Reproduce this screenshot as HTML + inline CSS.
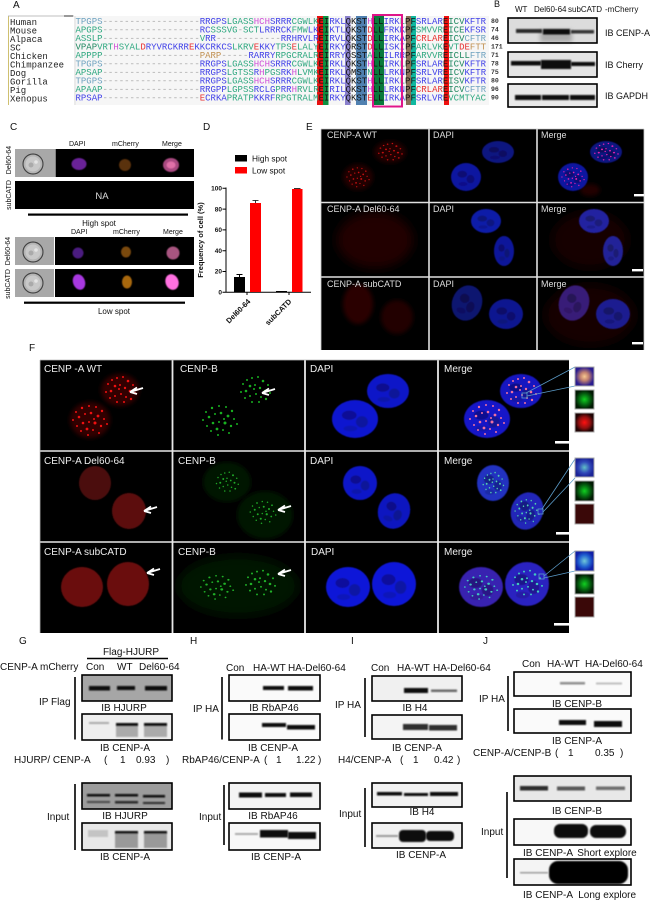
<!DOCTYPE html>
<html><head><meta charset="utf-8"><style>
html,body{margin:0;padding:0;background:#fff;width:650px;height:902px;overflow:hidden}
svg{display:block;font-family:"Liberation Sans",sans-serif;fill:#111;filter:blur(.3px)}
.m{font-family:"Liberation Mono",monospace;font-size:9px}
.n{font-family:"Liberation Mono",monospace;font-size:6.5px;font-weight:bold;fill:#333}
.l{font-size:10px}.k{font-size:8px}.c{font-size:7px}.e{font-size:9px;fill:#ddd}.f{font-size:10px;fill:#eee}
.bd{font-weight:bold}
.q{fill:#111}.a{fill:#6fa3c0}.d{fill:#aaa}.b{fill:#4040e8}.g{fill:#2fa880}.p{fill:#d050d8}.r{fill:#e83030}.o{fill:#c09050}.t{fill:#208860}
.fr{fill:none;stroke:#000;stroke-width:1.6}
.band{fill:#0a0a0a;filter:url(#b1)}
.ln{stroke:#000;stroke-width:1.6}
.ins{stroke:#aaa;stroke-width:1}
.cn{stroke:#5b9bc8;stroke-width:.8;fill:none}
</style></head><body>
<svg xmlns="http://www.w3.org/2000/svg" width="650" height="902" viewBox="0 0 650 902">
<defs>
<filter id="b03" x="-20%" y="-20%" width="140%" height="140%"><feGaussianBlur stdDeviation=".5"/></filter>
<filter id="b1" x="-30%" y="-80%" width="160%" height="260%"><feGaussianBlur stdDeviation=".8"/></filter>
<filter id="b2" x="-50%" y="-50%" width="200%" height="200%"><feGaussianBlur stdDeviation="2"/></filter>
<filter id="b5" x="-60%" y="-60%" width="220%" height="220%"><feGaussianBlur stdDeviation="5"/></filter>
<radialGradient id="gP"><stop offset="0" stop-color="#f8c890"/><stop offset=".45" stop-color="#c08070"/><stop offset="1" stop-color="#2a1c90"/></radialGradient>
<radialGradient id="gG"><stop offset="0" stop-color="#10d020"/><stop offset=".6" stop-color="#056010"/><stop offset="1" stop-color="#021a04"/></radialGradient>
<radialGradient id="gR"><stop offset="0" stop-color="#ff1010"/><stop offset=".6" stop-color="#901010"/><stop offset="1" stop-color="#200404"/></radialGradient>
<radialGradient id="gB"><stop offset="0" stop-color="#60c0c8"/><stop offset=".6" stop-color="#3048b8"/><stop offset="1" stop-color="#1c2498"/></radialGradient>
<radialGradient id="gV"><stop offset="0" stop-color="#70c8d8"/><stop offset=".6" stop-color="#2060d0"/><stop offset="1" stop-color="#1020a8"/></radialGradient>
<g id="nuc"><circle r="1"/><ellipse cx="-.25" cy="-.2" rx=".32" ry=".25" fill="#000" opacity=".28"/><ellipse cx=".3" cy=".15" rx=".26" ry=".3" fill="#000" opacity=".24"/><ellipse cx="-.2" cy=".5" rx=".3" ry=".15" fill="#000" opacity=".14"/></g>
<g id="d1"><circle cx="-12" cy="-6" r="1"/><circle cx="-8" cy="-10" r="1"/><circle cx="-3" cy="-12" r="1"/><circle cx="3" cy="-13" r="1"/><circle cx="8" cy="-9" r="1.3"/><circle cx="13" cy="-5" r="1"/><circle cx="-14" cy="2" r="1"/><circle cx="-9" cy="1" r="1.3"/><circle cx="-5" cy="-4" r="1.3"/><circle cx="0" cy="-5" r="1"/><circle cx="5" cy="-2" r="1.2"/><circle cx="10" cy="1" r="1.3"/><circle cx="15" cy="3" r="1"/><circle cx="-10" cy="8" r="1"/><circle cx="-5" cy="6" r="1"/><circle cx="1" cy="4" r="1"/><circle cx="6" cy="7" r="1"/><circle cx="11" cy="9" r="1.2"/><circle cx="-3" cy="12" r="1"/><circle cx="4" cy="12" r="1"/><circle cx="-1" cy="-1" r="1"/></g>
<g id="d2"><circle cx="-14" cy="-8" r="1"/><circle cx="-8" cy="-12" r="1.2"/><circle cx="-1" cy="-14" r="1"/><circle cx="6" cy="-13" r="1"/><circle cx="12" cy="-9" r="1.2"/><circle cx="-17" cy="0" r="1"/><circle cx="-11" cy="-3" r="1.3"/><circle cx="-5" cy="-6" r="1"/><circle cx="1" cy="-7" r="1.3"/><circle cx="8" cy="-4" r="1.4"/><circle cx="14" cy="-1" r="1"/><circle cx="-13" cy="6" r="1"/><circle cx="-7" cy="3" r="1.3"/><circle cx="-1" cy="2" r="1"/><circle cx="5" cy="3" r="1.5"/><circle cx="11" cy="6" r="1.2"/><circle cx="17" cy="4" r="1"/><circle cx="-9" cy="11" r="1"/><circle cx="-3" cy="9" r="1.4"/><circle cx="3" cy="10" r="1"/><circle cx="9" cy="13" r="1"/><circle cx="-2" cy="15" r="1"/><circle cx="4" cy="-1" r="1"/></g>
<g id="arr"><path d="M0 0L13 -4M0 0L7 -4.5M0 0L7 2" stroke="#fff" stroke-width="1.8" fill="none"/></g>
<g id="cell"><circle r="11" fill="#b4b4b4"/><circle r="10" fill="none" stroke="#444" stroke-width="1.2"/><circle r="7.5" fill="#c8c8c8"/><circle cx="-2" cy="1" r="2.5" fill="#aaa"/><circle cx="3" cy="-2" r="1.8" fill="#e4e4e4"/></g>
<clipPath id="cE"><rect x="321" y="129" width="323" height="221"/></clipPath>
<clipPath id="cF"><rect x="40" y="360" width="529" height="273"/></clipPath>
</defs>
<rect width="650" height="902" fill="#fff"/>

<!-- Panel A -->
<text x="13" y="8" class="l">A</text>
<rect x="76" y="16" width="413" height="89" fill="#f6f6f6"/>
<rect x="8" y="16" width="66" height="89" fill="#fff"/>
<path d="M8.5 16V105" stroke="#cfc070" stroke-width="1"/><path d="M8 16H74" stroke="#aaa" stroke-width=".8"/><rect x="64" y="15" width="9" height="2" fill="#999"/>
<path d="M75 16V105" stroke="#ccc" stroke-width=".8"/>
<rect x="317" y="16" width="6" height="89" fill="#e81010"/><rect x="323" y="16" width="5.5" height="89" fill="#0e9040"/>
<rect x="345" y="16" width="5.5" height="89" fill="#8a80cc"/>
<rect x="356" y="16" width="11" height="89" fill="#5080b0"/>
<rect x="374" y="16" width="10" height="89" fill="#0a7a3c"/>
<rect x="406" y="16" width="5" height="89" fill="#8a7258"/><rect x="411" y="16" width="5" height="89" fill="#10b8a0"/>
<rect x="444" y="16" width="5" height="89" fill="#f01010"/>
<g class="m" fill="#222">
<text x="10" y="25">Human</text><text x="10" y="33.5">Mouse</text><text x="10" y="42">Alpaca</text><text x="10" y="50.5">SC</text><text x="10" y="59">Chicken</text><text x="10" y="67.5">Chimpanzee</text><text x="10" y="76">Dog</text><text x="10" y="84.5">Gorilla</text><text x="10" y="93">Pig</text><text x="10" y="101.5">Xenopus</text>
<text x="75.5" y="24"><tspan class="a">TPGPS</tspan><tspan class="d">------------------</tspan><tspan class="b">RRGPS</tspan><tspan class="g">LGASS</tspan><tspan class="p">HCH</tspan><tspan class="b">SRRR</tspan><tspan class="g">CGWLK</tspan><tspan class="q">EI</tspan><tspan class="b">RKL</tspan><tspan class="q">QKST</tspan><tspan class="p">H</tspan><tspan class="q">LL</tspan><tspan class="b">IRK</tspan><tspan class="g">L</tspan><tspan class="q">PF</tspan><tspan class="b">SRLAR</tspan><tspan class="q">E</tspan><tspan class="t">ICV</tspan><tspan class="b">KFTR</tspan></text>
<text x="75.5" y="32.5"><tspan class="g">APGPS</tspan><tspan class="d">------------------</tspan><tspan class="b">RC</tspan><tspan class="g">SSSVG</tspan><tspan class="d">-</tspan><tspan class="g">SCT</tspan><tspan class="b">LRRRCK</tspan><tspan class="g">FMW</tspan><tspan class="b">LK</tspan><tspan class="q">EI</tspan><tspan class="b">KTL</tspan><tspan class="q">QKST</tspan><tspan class="r">D</tspan><tspan class="q">LL</tspan><tspan class="b">FRKK</tspan><tspan class="q">PF</tspan><tspan class="g">SMVVR</tspan><tspan class="q">E</tspan><tspan class="t">ICE</tspan><tspan class="b">KFSR</tspan></text>
<text x="75.5" y="41"><tspan class="g">ASSLP</tspan><tspan class="d">------------------</tspan><tspan class="g">V</tspan><tspan class="b">RR</tspan><tspan class="d">------------</tspan><tspan class="b">RRHRVLR</tspan><tspan class="q">EI</tspan><tspan class="b">RVL</tspan><tspan class="q">QKST</tspan><tspan class="r">D</tspan><tspan class="q">LL</tspan><tspan class="b">IRKA</tspan><tspan class="q">PF</tspan><tspan class="r">CRLAR</tspan><tspan class="q">E</tspan><tspan class="t">ICV</tspan><tspan class="a">CFTR</tspan></text>
<text x="75.5" y="49.5"><tspan class="t">VPAP</tspan><tspan class="g">VRT</tspan><tspan class="p">H</tspan><tspan class="g">SYAL</tspan><tspan class="r">D</tspan><tspan class="b">RYVRCKRR</tspan><tspan class="r">E</tspan><tspan class="b">KKCRKCS</tspan><tspan class="g">LKRV</tspan><tspan class="r">E</tspan><tspan class="b">KKY</tspan><tspan class="g">TPS</tspan><tspan class="r">E</tspan><tspan class="g">LALY</tspan><tspan class="q">EI</tspan><tspan class="b">RKY</tspan><tspan class="q">QRST</tspan><tspan class="r">D</tspan><tspan class="q">LL</tspan><tspan class="b">ISKI</tspan><tspan class="q">PF</tspan><tspan class="g">ARLVK</tspan><tspan class="q">E</tspan><tspan class="g">VT</tspan><tspan class="r">DE</tspan><tspan class="o">FTT</tspan></text>
<text x="75.5" y="58"><tspan class="g">APPPP</tspan><tspan class="d">------------------</tspan><tspan class="o">PARP</tspan><tspan class="d">-----</tspan><tspan class="b">RARRY</tspan><tspan class="g">RPGCRALR</tspan><tspan class="q">EI</tspan><tspan class="b">RRY</tspan><tspan class="q">QSST</tspan><tspan class="g">A</tspan><tspan class="q">LL</tspan><tspan class="b">ILRR</tspan><tspan class="q">PF</tspan><tspan class="g">ARVVR</tspan><tspan class="q">E</tspan><tspan class="t">ICLL</tspan><tspan class="a">FTR</tspan></text>
<text x="75.5" y="66.5"><tspan class="a">TPGPS</tspan><tspan class="d">------------------</tspan><tspan class="b">RRGPS</tspan><tspan class="g">LGASS</tspan><tspan class="p">HCH</tspan><tspan class="b">SRRR</tspan><tspan class="g">CGWLK</tspan><tspan class="q">EI</tspan><tspan class="b">RKL</tspan><tspan class="q">QKST</tspan><tspan class="p">H</tspan><tspan class="q">LL</tspan><tspan class="b">IRK</tspan><tspan class="g">L</tspan><tspan class="q">PF</tspan><tspan class="b">SRLAR</tspan><tspan class="q">E</tspan><tspan class="t">ICV</tspan><tspan class="b">KFTR</tspan></text>
<text x="75.5" y="75"><tspan class="g">APSAP</tspan><tspan class="d">------------------</tspan><tspan class="b">RRGPS</tspan><tspan class="g">LGTSS</tspan><tspan class="b">R</tspan><tspan class="p">H</tspan><tspan class="g">PGS</tspan><tspan class="b">RK</tspan><tspan class="p">H</tspan><tspan class="g">LVMK</tspan><tspan class="q">EI</tspan><tspan class="b">RKL</tspan><tspan class="q">QMST</tspan><tspan class="g">N</tspan><tspan class="q">LL</tspan><tspan class="b">LRKN</tspan><tspan class="q">PF</tspan><tspan class="b">SRLVR</tspan><tspan class="q">E</tspan><tspan class="t">ICV</tspan><tspan class="b">KFTR</tspan></text>
<text x="75.5" y="83.5"><tspan class="a">TPGPS</tspan><tspan class="d">------------------</tspan><tspan class="b">RRGPS</tspan><tspan class="g">LGASS</tspan><tspan class="p">HCH</tspan><tspan class="b">SRRR</tspan><tspan class="g">CGWLK</tspan><tspan class="q">EI</tspan><tspan class="b">RKL</tspan><tspan class="q">QKST</tspan><tspan class="p">H</tspan><tspan class="q">LL</tspan><tspan class="b">IRK</tspan><tspan class="g">L</tspan><tspan class="q">PF</tspan><tspan class="b">SRLAR</tspan><tspan class="q">E</tspan><tspan class="t">ISV</tspan><tspan class="b">KFTR</tspan></text>
<text x="75.5" y="92"><tspan class="g">APAAP</tspan><tspan class="d">------------------</tspan><tspan class="b">RRGPP</tspan><tspan class="g">LGPSS</tspan><tspan class="b">RCLG</tspan><tspan class="g">P</tspan><tspan class="b">RR</tspan><tspan class="p">H</tspan><tspan class="g">RVLR</tspan><tspan class="q">EI</tspan><tspan class="b">RIL</tspan><tspan class="q">QKST</tspan><tspan class="p">H</tspan><tspan class="q">LL</tspan><tspan class="b">LRKN</tspan><tspan class="q">PF</tspan><tspan class="r">CRLAR</tspan><tspan class="q">E</tspan><tspan class="t">ICV</tspan><tspan class="a">CFTR</tspan></text>
<text x="75.5" y="100.5"><tspan class="b">RPSAP</tspan><tspan class="d">------------------</tspan><tspan class="r">E</tspan><tspan class="b">CRKA</tspan><tspan class="g">PRATP</tspan><tspan class="b">KKRF</tspan><tspan class="g">RPGTRALM</tspan><tspan class="q">EI</tspan><tspan class="b">RKY</tspan><tspan class="q">QKST</tspan><tspan class="r">E</tspan><tspan class="q">LL</tspan><tspan class="b">IRKA</tspan><tspan class="q">PF</tspan><tspan class="b">SRLVR</tspan><tspan class="q">E</tspan><tspan class="g">VCMTYAC</tspan></text>
</g>
<rect x="373" y="15" width="29" height="91.5" fill="none" stroke="#e0158a" stroke-width="2"/>
<g class="n"><text x="491" y="23">80</text><text x="491" y="31.5">74</text><text x="491" y="40">46</text><text x="491" y="48.5">171</text><text x="491" y="57">71</text><text x="491" y="65.5">78</text><text x="491" y="74">75</text><text x="491" y="82.5">80</text><text x="491" y="91">96</text><text x="491" y="99.5">90</text></g>

<!-- Panel B -->
<text x="494" y="7" class="l" style="font-size:9px">B</text>
<text x="515" y="12" class="k">WT</text><text x="534" y="12" class="k">Del60-64</text><text x="568" y="12" class="k">subCATD</text><text x="605" y="12" class="k">-mCherry</text>
<rect x="508" y="18" width="89" height="25" fill="#dcdcdc"/>
<rect x="540" y="30" width="32" height="12" fill="#aaa" filter="url(#b2)"/>
<rect x="516" y="29" width="26" height="4" class="band" opacity=".85"/><rect x="543" y="29" width="27" height="5.5" class="band"/><rect x="571" y="30" width="23" height="3.5" class="band" opacity=".8"/>
<rect x="508" y="18" width="89" height="25" class="fr"/>
<rect x="508" y="52" width="89" height="25" fill="#e4e4e4"/>
<rect x="511" y="61" width="30" height="4.5" class="band"/><rect x="541" y="60" width="30" height="9" class="band"/><rect x="571" y="62" width="24" height="4" class="band"/>
<rect x="508" y="52" width="89" height="25" class="fr"/>
<rect x="508" y="84" width="89" height="23" fill="#e8e8e8"/>
<rect x="515" y="95" width="26" height="5" class="band"/><rect x="542" y="95" width="27" height="5" class="band"/><rect x="570" y="95" width="25" height="5" class="band"/>
<rect x="508" y="84" width="89" height="23" class="fr"/>
<g style="font-size:9px"><text x="605" y="36">IB CENP-A</text><text x="605" y="68">IB Cherry</text><text x="605" y="99">IB GAPDH</text></g>

<!-- Panel C -->
<text x="10" y="130" class="l">C</text>
<g class="c"><text x="69" y="146">DAPI</text><text x="112" y="146">mCherry</text><text x="162" y="146">Merge</text><text x="71" y="234">DAPI</text><text x="113" y="234">mCherry</text><text x="163" y="234">Merge</text></g>
<rect x="15" y="149" width="40" height="28" fill="#a8a8a8"/><rect x="55.5" y="149" width="138.5" height="28" fill="#000"/>
<use href="#cell" x="33" y="164"/>
<rect x="15" y="181" width="179" height="28" fill="#000"/>
<text x="102" y="199" style="font-size:9.5px;fill:#ddd" text-anchor="middle">NA</text>
<rect x="28" y="213.5" width="160" height="2.2" fill="#000"/>
<text x="99" y="226" class="k" text-anchor="middle">High spot</text>
<rect x="15" y="237" width="39" height="28" fill="#a8a8a8"/><rect x="55" y="237" width="139" height="28" fill="#000"/>
<use href="#cell" x="33" y="252"/>
<rect x="15" y="269" width="39" height="28" fill="#a8a8a8"/><rect x="55" y="269" width="139" height="28" fill="#000"/>
<use href="#cell" x="33" y="283"/>
<rect x="24" y="301.6" width="161" height="2.2" fill="#000"/>
<text x="114" y="314" class="k" text-anchor="middle">Low spot</text>
<g class="c"><text transform="translate(11,160) rotate(-90)" text-anchor="middle">Del60-64</text><text transform="translate(11,195) rotate(-90)" text-anchor="middle">subCATD</text><text transform="translate(10,251) rotate(-90)" text-anchor="middle">Del60-64</text><text transform="translate(10,284) rotate(-90)" text-anchor="middle">subCATD</text></g>
<g filter="url(#b03)">
<ellipse cx="79" cy="164" rx="7.5" ry="6" fill="#6a2498"/><ellipse cx="125" cy="165" rx="6" ry="6" fill="#5a3008"/><ellipse cx="171" cy="165" rx="8" ry="7" fill="#a84880"/><ellipse cx="171" cy="165" rx="4.5" ry="3.5" fill="#e070a8"/>
<ellipse cx="78" cy="253" rx="5.5" ry="5.5" fill="#4c1a80"/><ellipse cx="126" cy="252" rx="5" ry="5.5" fill="#7a4810"/><ellipse cx="173" cy="253" rx="6.5" ry="6.5" fill="#a85480"/>
<ellipse cx="79" cy="282" rx="6" ry="8" transform="rotate(-20 79 282)" fill="#a838e0"/><ellipse cx="127" cy="282" rx="5" ry="6.5" fill="#a86810"/><ellipse cx="172" cy="282" rx="6.5" ry="8" transform="rotate(-20 172 282)" fill="#ff70e0"/>
</g>

<!-- Panel D -->
<text x="203" y="130" class="l">D</text>
<rect x="235" y="155" width="12" height="6.5" fill="#000"/><text x="252" y="161.5" style="font-size:8.3px">High spot</text>
<rect x="235" y="167" width="12" height="6.5" fill="#f00"/><text x="252" y="173.5" style="font-size:8.3px">Low spot</text>
<path d="M226 187.5V292.8M226 292.3H311M222.5 188.3H226M222.5 209.1H226M222.5 229.9H226M222.5 250.7H226M222.5 271.5H226M222.5 292.3H226M247 292V295M289 292V295" stroke="#000" stroke-width="1" fill="none"/>
<g style="font-size:6.5px;font-weight:bold" text-anchor="end"><text x="222" y="190.5">100</text><text x="222" y="211.3">80</text><text x="222" y="232">60</text><text x="222" y="253">40</text><text x="222" y="273.7">20</text><text x="222" y="294.5">0</text></g>
<text transform="translate(203,240) rotate(-90)" text-anchor="middle" style="font-size:7.5px;font-weight:bold">Frequency of cell (%)</text>
<rect x="234" y="277" width="11" height="15" fill="#000"/><path d="M239.5 277V274.5M236.5 274.5H242.5" stroke="#000"/>
<rect x="250" y="203" width="11" height="89" fill="#f00"/><path d="M255.5 203V200.5M252.5 200.5H258.5" stroke="#000" stroke-width=".8"/>
<rect x="276" y="291" width="11" height="1" fill="#000"/>
<rect x="292" y="189" width="10.5" height="103" fill="#f00"/><path d="M294 188.5H300.5" stroke="#000" stroke-width=".8"/>
<g style="font-size:7.5px;font-weight:bold" text-anchor="end"><text transform="translate(251,302) rotate(-45)">Del60-64</text><text transform="translate(292,302) rotate(-45)">subCATD</text></g>

<!-- Panel E -->
<text x="306" y="130" class="l">E</text>
<g clip-path="url(#cE)">
<rect x="321" y="129" width="323" height="221" fill="#000"/>
<ellipse cx="390" cy="152" rx="16" ry="11" fill="#200303" filter="url(#b2)"/><ellipse cx="358" cy="177" rx="15" ry="13" fill="#200303" filter="url(#b2)"/>
<use href="#d1" transform="translate(390,152) scale(.8,.65)" fill="#c01010"/><use href="#d2" transform="translate(358,177) scale(.65)" fill="#c01010"/>
<g filter="url(#b03)"><use href="#nuc" transform="translate(498,152) scale(16,11)" fill="#0a1280"/><use href="#nuc" transform="translate(466,177) scale(15,14)" fill="#0a14a0"/></g>
<ellipse cx="590" cy="190" rx="10" ry="6" fill="#200404" filter="url(#b2)"/>
<g filter="url(#b03)"><use href="#nuc" transform="translate(606,152) scale(16,11)" fill="#0a1280"/><use href="#nuc" transform="translate(573,177) scale(15,14)" fill="#0a14a0"/></g>
<use href="#d1" transform="translate(606,152) scale(.8,.65)" fill="#e020b0"/><use href="#d2" transform="translate(573,177) scale(.65)" fill="#e020b0"/>
<ellipse cx="375" cy="240" rx="38" ry="28" fill="#200505" filter="url(#b5)"/>
<g filter="url(#b03)"><use href="#nuc" transform="translate(486,221) scale(15,12)" fill="#0e1ca8"/><use href="#nuc" transform="translate(504,251) scale(10,15)" fill="#0d189a"/></g>
<ellipse cx="590" cy="240" rx="38" ry="28" fill="#180404" filter="url(#b5)"/>
<g filter="url(#b03)"><use href="#nuc" transform="translate(594,221) scale(15,12)" fill="#2424a0"/><use href="#nuc" transform="translate(613,251) scale(10,15)" fill="#242498"/></g>
<ellipse cx="358" cy="304" rx="15" ry="20" fill="#2c0505" filter="url(#b2)"/><ellipse cx="397" cy="317" rx="16" ry="17" fill="#220404" filter="url(#b2)"/>
<g filter="url(#b03)"><use href="#nuc" transform="translate(467,303) rotate(20) scale(15,18)" fill="#0a1270"/><use href="#nuc" transform="translate(506,314) scale(17,15)" fill="#0c1690"/></g>
<ellipse cx="590" cy="315" rx="45" ry="30" fill="#140303" filter="url(#b5)"/>
<g filter="url(#b03)"><use href="#nuc" transform="translate(574,303) rotate(20) scale(15,18)" fill="#381c78"/><use href="#nuc" transform="translate(613,314) scale(17,15)" fill="#1e1e90"/></g>
</g>
<path d="M429 129V350M537 129V350" stroke="#e0e0e0" stroke-width="1.6"/><path d="M321 202.5H644M321 277H644" stroke="#e0e0e0" stroke-width="1.6"/>
<path d="M321 129H644M321 129V350M644 129V350" stroke="#ccc" stroke-width=".8" fill="none"/>
<g class="e"><text x="327" y="138">CENP-A WT</text><text x="327" y="212">CENP-A Del60-64</text><text x="327" y="287">CENP-A subCATD</text><text x="433" y="138">DAPI</text><text x="433" y="212">DAPI</text><text x="433" y="287">DAPI</text><text x="541" y="138">Merge</text><text x="541" y="212">Merge</text><text x="541" y="287">Merge</text></g>
<rect x="634" y="194" width="10" height="2.4" style="fill:#fff"/><rect x="632" y="269" width="11" height="2.4" style="fill:#fff"/><rect x="632" y="342" width="11" height="2.4" style="fill:#fff"/>

<!-- Panel F -->
<text x="29" y="351" class="l">F</text>
<g clip-path="url(#cF)">
<rect x="40" y="360" width="529" height="273" fill="#000"/>
<ellipse cx="120" cy="390" rx="19" ry="16" fill="#300505" filter="url(#b2)"/><ellipse cx="90" cy="420" rx="20" ry="18" fill="#300505" filter="url(#b2)"/>
<use href="#d1" x="120" y="390" fill="#f01010"/><use href="#d2" x="90" y="420" fill="#f01010"/>
<use href="#d1" x="255" y="390" fill="#18b020"/><use href="#d2" x="220" y="420" fill="#18b020"/>
<g filter="url(#b03)"><use href="#nuc" transform="translate(388,391) scale(21,17)" fill="#1018c8"/><use href="#nuc" transform="translate(355,419) scale(23,19)" fill="#1018d0"/><use href="#nuc" transform="translate(521,391) scale(21,17)" fill="#1818c0"/><use href="#nuc" transform="translate(487,419) scale(23,19)" fill="#1818c8"/></g>
<use href="#d1" x="521" y="391" fill="#f070a0"/><use href="#d2" x="487" y="419" fill="#f070a0"/>
<ellipse cx="95" cy="483" rx="16" ry="17" fill="#4c0e0e" filter="url(#b03)"/><ellipse cx="129" cy="511" rx="17" ry="18" fill="#5c0e0e" filter="url(#b03)"/>
<ellipse cx="227" cy="482" rx="24" ry="20" fill="#051405" filter="url(#b2)"/><ellipse cx="265" cy="515" rx="28" ry="24" fill="#051405" filter="url(#b2)"/>
<use href="#d1" transform="translate(227,482) scale(.75)" fill="#20a828"/><use href="#d2" transform="translate(263,512) scale(.75)" fill="#20a828"/>
<g filter="url(#b03)"><use href="#nuc" transform="translate(360,483) scale(17,17)" fill="#1018c8"/><use href="#nuc" transform="translate(394,511) rotate(20) scale(16,18)" fill="#1018c0"/><use href="#nuc" transform="translate(493,483) scale(16,18)" fill="#2030c0"/><use href="#nuc" transform="translate(527,511) rotate(20) scale(16,19)" fill="#2028b8"/></g>
<use href="#d1" transform="translate(493,483) scale(.7,.8)" fill="#50d0b0"/><use href="#d2" transform="translate(527,511) scale(.7,.8)" fill="#50d0b0"/>
<ellipse cx="82" cy="587" rx="21" ry="20" fill="#6a0e0e" filter="url(#b03)"/><ellipse cx="128" cy="584" rx="21" ry="22" fill="#6a0e0e" filter="url(#b03)"/>
<ellipse cx="238" cy="586" rx="60" ry="30" fill="#061806" filter="url(#b5)"/>
<use href="#d2" transform="translate(217,587) scale(.95,.8)" fill="#20b028"/><use href="#d1" transform="translate(260,583) scale(1,.95)" fill="#20b028"/>
<g filter="url(#b03)"><use href="#nuc" transform="translate(348,587) scale(22,20)" fill="#1018d8"/><use href="#nuc" transform="translate(394,584) scale(22,22)" fill="#1018d8"/><use href="#nuc" transform="translate(481,587) scale(22,20)" fill="#3820b0"/><use href="#nuc" transform="translate(527,584) scale(22,22)" fill="#2c20c0"/></g>
<use href="#d2" transform="translate(481,587) scale(.95,.8)" fill="#40c8c0"/><use href="#d1" transform="translate(527,583) scale(1,.95)" fill="#40c8c0"/>
</g>
<path d="M172.5 360V633M305 360V633M438 360V633" stroke="#e8e8e8" stroke-width="1.8"/><path d="M40 451H569M40 542H569" stroke="#e8e8e8" stroke-width="1.6"/>
<path d="M40 360H569M40 360V633" stroke="#bbb" stroke-width=".8" fill="none"/>
<g class="f"><text x="44" y="372">CENP -A WT</text><text x="44" y="464">CENP-A Del60-64</text><text x="44" y="555">CENP-A subCATD</text><text x="180" y="372">CENP-B</text><text x="178" y="464">CENP-B</text><text x="178" y="555">CENP-B</text><text x="310" y="372">DAPI</text><text x="310" y="464">DAPI</text><text x="311" y="555">DAPI</text><text x="444" y="372">Merge</text><text x="444" y="464">Merge</text><text x="444" y="555">Merge</text></g>
<use href="#arr" x="130" y="392"/><use href="#arr" x="262" y="393"/><use href="#arr" x="144" y="511"/><use href="#arr" x="278" y="510"/><use href="#arr" x="147" y="573"/><use href="#arr" x="278" y="574"/>
<rect x="555" y="441" width="14" height="2.6" style="fill:#fff"/><rect x="556" y="532" width="13" height="2.6" style="fill:#fff"/><rect x="554" y="623" width="15" height="2.6" style="fill:#fff"/>
<rect x="522" y="393" width="5" height="5" class="cn"/><rect x="538" y="509" width="5" height="5" class="cn"/><rect x="539" y="574" width="5" height="5" class="cn"/>
<path class="cn" d="M526 393L575 367M527 396L575 386M542 509L575 459M543 512L575 478M544 576L575 551M544 578L575 571"/>
<rect x="575" y="367" width="19" height="19" class="ins" style="fill:url(#gP)"/><rect x="575" y="390" width="19" height="19" class="ins" style="fill:url(#gG)"/><rect x="575" y="413" width="19" height="19" class="ins" style="fill:url(#gR)"/>
<rect x="575" y="458" width="19" height="19" class="ins" style="fill:url(#gB)"/><rect x="575" y="481" width="19" height="20" class="ins" style="fill:url(#gG)"/><rect x="575" y="504" width="19" height="20" class="ins" style="fill:#3a0808"/>
<rect x="575" y="551" width="19" height="20" class="ins" style="fill:url(#gV)"/><rect x="575" y="574" width="19" height="20" class="ins" style="fill:url(#gG)"/><rect x="575" y="597" width="19" height="20" class="ins" style="fill:#3a0808"/>

<!-- Panel G -->
<text x="19" y="644" class="l">G</text>
<text x="131" y="655" class="l" text-anchor="middle">Flag-HJURP</text><path class="ln" d="M87 658.5H168"/>
<g class="l"><text x="0" y="670">CENP-A mCherry</text><text x="86" y="670">Con</text><text x="117" y="670">WT</text><text x="139" y="670">Del60-64</text>
<text x="39" y="705">IP Flag</text><text x="124" y="711" text-anchor="middle">IB HJURP</text><text x="125" y="751" text-anchor="middle">IB CENP-A</text>
<text x="14" y="763">HJURP/ CENP-A</text><text x="104" y="763">(</text><text x="120" y="763">1</text><text x="136" y="763">0.93</text><text x="166" y="763">)</text>
<text x="47" y="820">Input</text><text x="125" y="819" text-anchor="middle">IB HJURP</text><text x="125" y="860" text-anchor="middle">IB CENP-A</text></g>
<path class="ln" d="M75 677V739.5M75 784V850"/>
<rect x="82" y="675" width="90" height="26" fill="#a6a6a6"/>
<rect x="89" y="686" width="21" height="4.5" class="band"/><rect x="117" y="686" width="18" height="4" class="band"/><rect x="145" y="686" width="22" height="4.5" class="band"/>
<rect x="82" y="675" width="90" height="26" class="fr"/>
<rect x="82" y="714" width="90" height="26" fill="#eee"/>
<rect x="89" y="722" width="20" height="2" fill="#aaa" filter="url(#b1)"/>
<rect x="116" y="726" width="22" height="11" fill="#aaa" filter="url(#b1)"/><rect x="144" y="726" width="23" height="11" fill="#aaa" filter="url(#b1)"/>
<rect x="116" y="723" width="22" height="3" class="band"/><rect x="144" y="723" width="23" height="3" class="band"/>
<rect x="82" y="714" width="90" height="26" class="fr"/>
<rect x="82" y="783" width="90" height="26" fill="#9c9c9c"/>
<rect x="87" y="794" width="23" height="2.5" class="band"/><rect x="115" y="794" width="23" height="2.5" class="band"/><rect x="143" y="795" width="22" height="2.5" class="band"/>
<rect x="87" y="801" width="23" height="2" class="band" opacity=".6"/><rect x="115" y="801" width="23" height="2.5" class="band" opacity=".8"/><rect x="143" y="802" width="22" height="2" class="band" opacity=".8"/>
<rect x="82" y="783" width="90" height="26" class="fr"/>
<rect x="82" y="823" width="90" height="27" fill="#e8e8e8"/>
<rect x="88" y="830" width="20" height="7" fill="#c4c4c4" filter="url(#b1)"/>
<rect x="115" y="833" width="23" height="15" fill="#999" filter="url(#b1)"/><rect x="144" y="833" width="23" height="15" fill="#999" filter="url(#b1)"/>
<rect x="115" y="831" width="23" height="2.5" class="band"/><rect x="144" y="831" width="23" height="2.5" class="band"/>
<rect x="82" y="823" width="90" height="27" class="fr"/>

<!-- Panel H -->
<text x="190" y="644" class="l">H</text>
<g class="l"><text x="226" y="671">Con</text><text x="253" y="671">HA-WT</text><text x="288" y="671">HA-Del60-64</text>
<text x="193" y="712">IP HA</text><text x="274" y="711" text-anchor="middle">IB RbAP46</text><text x="273" y="751" text-anchor="middle">IB CENP-A</text>
<text x="182" y="763">RbAP46/CENP-A</text><text x="264" y="763">(</text><text x="276" y="763">1</text><text x="296" y="763">1.22</text><text x="318" y="763">)</text>
<text x="199" y="820">Input</text><text x="273" y="819" text-anchor="middle">IB RbAP46</text><text x="276" y="860" text-anchor="middle">IB CENP-A</text></g>
<path class="ln" d="M222 677V739.5M224 785V845"/>
<rect x="229" y="675" width="91" height="26" fill="#fafafa"/>
<rect x="263" y="686" width="21" height="4" class="band"/><rect x="288" y="686" width="25" height="4.5" class="band"/>
<rect x="229" y="675" width="91" height="26" class="fr"/>
<rect x="229" y="714" width="91" height="26" fill="#fafafa"/>
<rect x="262" y="723" width="24" height="4" class="band"/><rect x="287" y="725" width="28" height="4.5" class="band"/>
<rect x="229" y="714" width="91" height="26" class="fr"/>
<rect x="229" y="783" width="91" height="26" fill="#f4f4f4"/>
<rect x="239" y="792.5" width="23" height="5" class="band"/><rect x="265" y="793" width="21" height="4" class="band"/><rect x="290" y="792.5" width="22" height="4.5" class="band"/>
<rect x="229" y="783" width="91" height="26" class="fr"/>
<rect x="229" y="823" width="91" height="27" fill="#f8f8f8"/>
<rect x="235" y="833" width="23" height="2" fill="#aaa" filter="url(#b1)"/>
<rect x="260" y="830" width="28" height="7.5" class="band"/><rect x="288" y="832" width="28" height="7" class="band"/>
<rect x="229" y="823" width="91" height="27" class="fr"/>

<!-- Panel I -->
<text x="351" y="644" class="l">I</text>
<g class="l"><text x="371" y="671">Con</text><text x="397" y="671">HA-WT</text><text x="433" y="671">HA-Del60-64</text>
<text x="335" y="708">IP HA</text><text x="415" y="711" text-anchor="middle">IB H4</text><text x="417" y="751" text-anchor="middle">IB CENP-A</text>
<text x="338" y="763">H4/CENP-A</text><text x="400" y="763">(</text><text x="413" y="763">1</text><text x="434" y="763">0.42</text><text x="457" y="763">)</text>
<text x="339" y="817">Input</text><text x="422" y="815" text-anchor="middle">IB H4</text><text x="421" y="858" text-anchor="middle">IB CENP-A</text></g>
<path class="ln" d="M365 678V737M365 788V847"/>
<rect x="372" y="676" width="90" height="25" fill="#f0f0f0"/>
<rect x="404" y="688" width="24" height="5" class="band"/><rect x="431" y="689.5" width="26" height="2.5" class="band" opacity=".6"/>
<rect x="372" y="676" width="90" height="25" class="fr"/>
<rect x="372" y="715" width="90" height="24" fill="#f4f4f4"/>
<rect x="403" y="724" width="25" height="6" class="band" opacity=".85"/><rect x="429" y="725" width="28" height="5.5" class="band" opacity=".85"/>
<rect x="372" y="715" width="90" height="24" class="fr"/>
<rect x="372" y="783" width="90" height="24" fill="#f2f2f2"/>
<rect x="377" y="792" width="25" height="3.5" class="band"/><rect x="404" y="793" width="24" height="3" class="band"/><rect x="430" y="792" width="28" height="4" class="band"/>
<rect x="372" y="783" width="90" height="24" class="fr"/>
<rect x="372" y="823" width="90" height="25" fill="#f2f2f2"/>
<rect x="376" y="835" width="22" height="2" fill="#999" filter="url(#b1)"/>
<rect x="399" y="830" width="27" height="12" rx="4" class="band"/><rect x="426" y="831" width="28" height="10" rx="4" class="band"/>
<rect x="372" y="823" width="90" height="25" class="fr"/>

<!-- Panel J -->
<text x="483" y="644" class="l">J</text>
<g class="l"><text x="522" y="667">Con</text><text x="547" y="667">HA-WT</text><text x="585" y="667">HA-Del60-64</text>
<text x="479" y="702">IP HA</text><text x="577" y="707" text-anchor="middle">IB CENP-B</text><text x="577" y="744" text-anchor="middle">IB CENP-A</text>
<text x="473" y="756">CENP-A/CENP-B</text><text x="555" y="756">(</text><text x="568" y="756">1</text><text x="595" y="756">0.35</text><text x="620" y="756">)</text>
<text x="481" y="835">Input</text><text x="577" y="814" text-anchor="middle">IB CENP-B</text><text x="523" y="856">IB CENP-A  <tspan dx="2">Short explore</tspan></text><text x="523" y="898">IB CENP-A  <tspan dx="3">Long explore</tspan></text></g>
<path class="ln" d="M508 676V731M507 792V878"/>
<rect x="514" y="672" width="117" height="24" fill="#fafafa"/>
<rect x="560" y="682" width="25" height="2.5" class="band" opacity=".45"/><rect x="596" y="682.5" width="26" height="2" class="band" opacity=".25"/>
<rect x="514" y="672" width="117" height="24" class="fr"/>
<rect x="514" y="709" width="117" height="24" fill="#fafafa"/>
<rect x="559" y="720" width="27" height="5" class="band"/><rect x="594" y="721" width="28" height="6" class="band"/>
<rect x="514" y="709" width="117" height="24" class="fr"/>
<rect x="514" y="776" width="117" height="25" fill="#e8e8e8"/>
<rect x="520" y="786" width="28" height="4.5" class="band" opacity=".85"/><rect x="557" y="786.5" width="28" height="4" class="band" opacity=".65"/><rect x="596" y="786.5" width="29" height="3.5" class="band" opacity=".55"/>
<rect x="514" y="776" width="117" height="25" class="fr"/>
<rect x="514" y="819" width="117" height="26" fill="#f8f8f8"/>
<rect x="554" y="824" width="34" height="14" rx="6" class="band"/><rect x="590" y="825" width="36" height="13" rx="6" class="band"/>
<rect x="514" y="819" width="117" height="26" class="fr"/>
<rect x="514" y="859" width="117" height="26" fill="#f4f4f4"/>
<rect x="520" y="872" width="28" height="1.5" fill="#999" filter="url(#b1)"/>
<rect x="549" y="861" width="79" height="23" rx="9" fill="#000" filter="url(#b1)"/>
<rect x="514" y="859" width="117" height="26" class="fr"/>
</svg>
</body></html>
